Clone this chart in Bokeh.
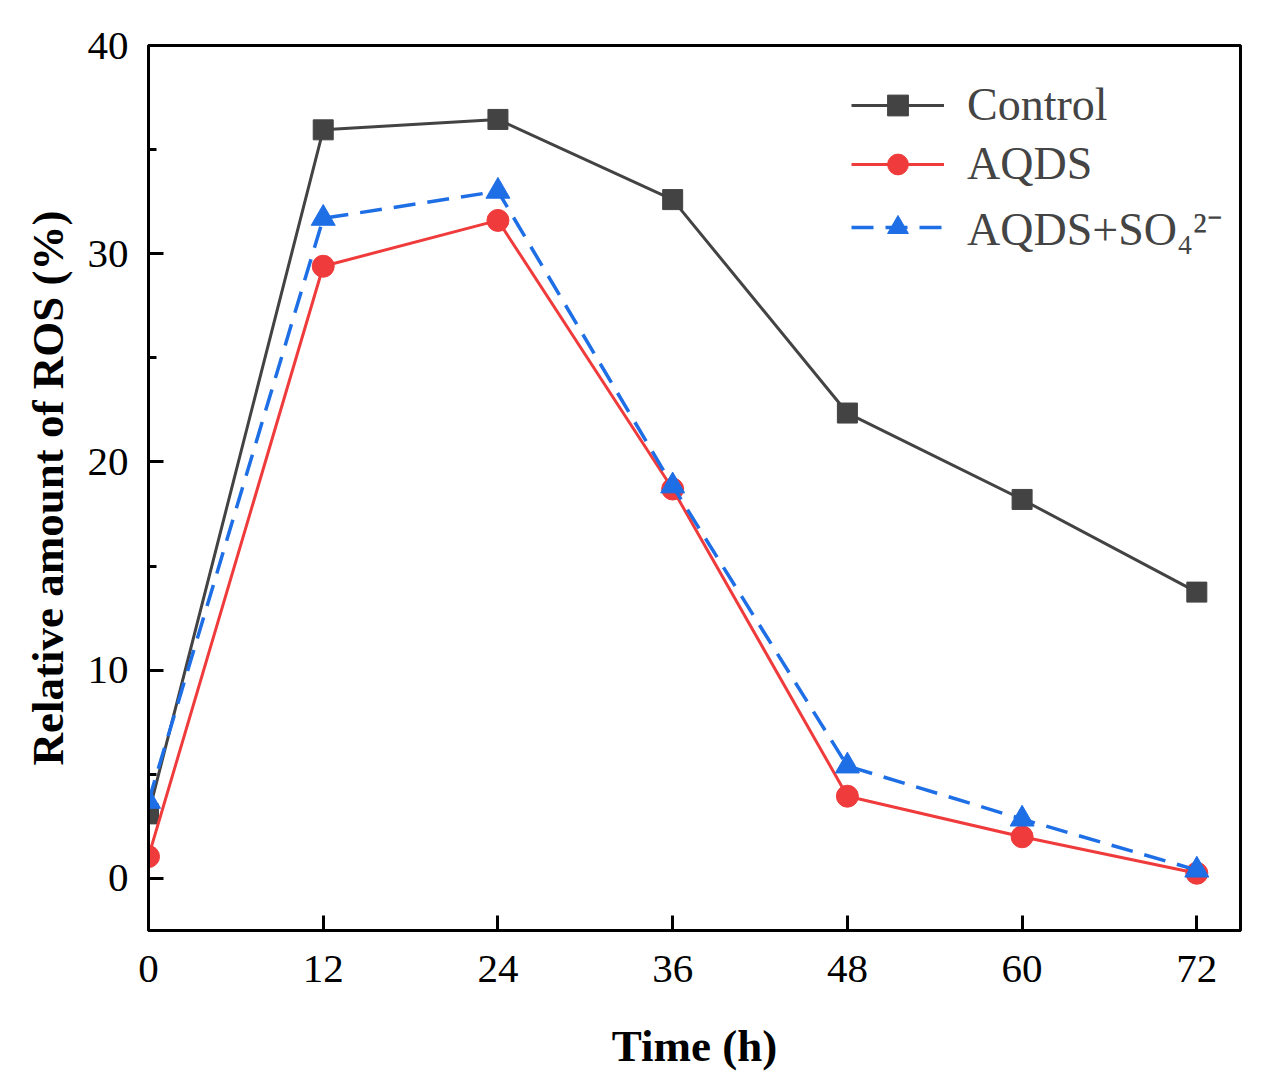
from bokeh.plotting import figure
from bokeh.models import Range1d, FixedTicker, SingleIntervalTicker, Legend, LegendItem
from bokeh.embed import file_html
from bokeh.resources import INLINE

# time points (h)
hours = [0, 12, 24, 36, 48, 60, 72]

# relative amount of ROS (%)
control = [3.1, 35.95, 36.45, 32.6, 22.35, 18.2, 13.75]
aqds = [1.05, 29.4, 31.6, 18.7, 3.95, 2.0, 0.25]
aqds_so4 = [3.7, 31.7, 33.0, 18.85, 5.4, 2.85, 0.4]

x_ticks = [0, 12, 24, 36, 48, 60, 72]

FONT = "Liberation Serif"

p = figure(
    width=1260, height=1075,
    x_range=Range1d(0, 75), y_range=Range1d(-2.5, 40),
    output_backend="svg", toolbar_location=None,
    min_border_left=148, min_border_right=20,
    min_border_top=45, min_border_bottom=145,
)
p.grid.visible = False
p.outline_line_color = "black"
p.outline_line_width = 3

# Control
r1 = p.line(hours, control, line_color="#434343", line_width=3)
m1 = p.scatter(hours, control, marker="square", size=20,
               fill_color="#434343", line_color="#434343")

# AQDS
r2 = p.line(hours, aqds, line_color="#EF3B3B", line_width=3)
m2 = p.scatter(hours, aqds, marker="circle", size=22,
               fill_color="#EF3B3B", line_color="#EF3B3B")

# AQDS + SO4
r3 = p.line(hours, aqds_so4, line_color="#1E6EE6", line_width=3.5, line_dash="22 12")
m3 = p.scatter(hours, aqds_so4, marker="triangle", size=24,
               fill_color="#1E6EE6", line_color="#1E6EE6")

legend = Legend(items=[
    LegendItem(label="Control", renderers=[r1, m1]),
    LegendItem(label="AQDS", renderers=[r2, m2]),
    LegendItem(label="AQDS+SO\u2084\u00b2\u207b", renderers=[r3, m3]),
])
legend.location = (703, 672)
legend.border_line_color = None
legend.background_fill_alpha = 0
legend.label_text_font = FONT
legend.label_text_font_size = "46px"
legend.glyph_width = 93
legend.glyph_height = 52
legend.label_standoff = 23
legend.spacing = 6
legend.padding = 0
legend.margin = 0
p.add_layout(legend)

p.xaxis.ticker = FixedTicker(ticks=x_ticks)
p.yaxis.ticker = SingleIntervalTicker(interval=10, num_minor_ticks=2)

for ax in (p.xaxis, p.yaxis):
    ax.axis_line_width = 3
    ax.axis_line_color = "black"
    ax.major_tick_line_width = 3
    ax.minor_tick_line_width = 3
    ax.major_tick_in = 15
    ax.major_tick_out = 0
    ax.minor_tick_in = 8
    ax.minor_tick_out = 0
    ax.major_label_text_font = FONT
    ax.major_label_text_font_size = "41px"
    ax.major_label_text_color = "black"
    ax.axis_label_text_font = FONT
    ax.axis_label_text_font_size = "45px"
    ax.axis_label_text_font_style = "bold"
    ax.axis_label_text_color = "black"

p.xaxis.minor_tick_line_color = None
p.xaxis.major_label_standoff = 25
p.yaxis.major_label_standoff = 20
p.xaxis.axis_label = "Time (h)"
p.yaxis.axis_label = "Relative amount of ROS (%)"
p.xaxis.axis_label_standoff = 36
p.yaxis.axis_label_standoff = 12

open("out.html", "w").write(file_html(p, INLINE))
